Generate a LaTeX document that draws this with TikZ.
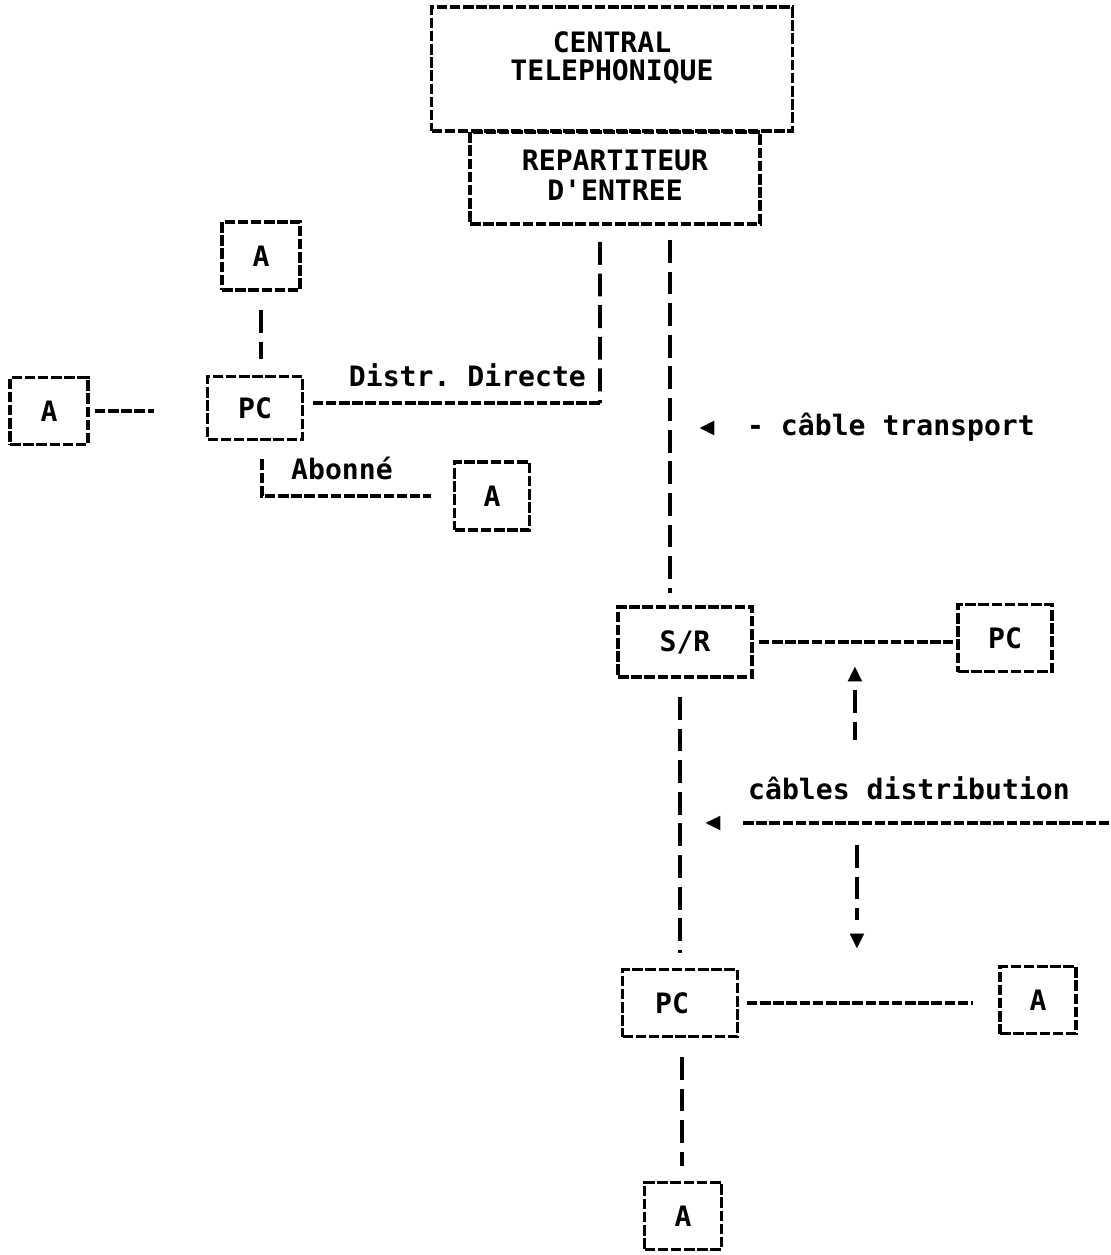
\documentclass[tikz,border=0pt]{standalone}
\usepackage{fontspec}
\setmonofont{DejaVu Sans Mono}
\newfontfamily\symfont{DejaVu Sans}
\begin{document}
\begin{tikzpicture}[x=0.02cm,y=-0.02cm,
  box/.style={draw, rectangle, inner sep=0pt, line width=2.2pt, dash pattern=on 6pt off 1.5pt},
  lbl/.style={font=\ttfamily\bfseries\fontsize{16}{18}\selectfont, inner sep=1pt},
  tip/.style={font=\symfont\fontsize{11}{11}\selectfont, inner sep=0pt},
  vline/.style={line width=2.2pt, dash pattern=on 13pt off 5pt},
  hline/.style={line width=2.2pt, dash pattern=on 6pt off 1.5pt}]
\useasboundingbox (0,0) rectangle (1110,1255);

% central and repartiteur
\node[box, minimum width=7.22cm, minimum height=2.48cm] (central) at (612,69) {};
\node[lbl] (t1) at (612,42) {CENTRAL};
\node[lbl] (t2) at (612,72) {TELEPHONIQUE};
\node[box, minimum width=5.8cm, minimum height=1.84cm] (rep) at (615,178) {};
\node[lbl] (t3) at (615,160) {REPARTITEUR};
\node[lbl] (t4) at (615,190) {D'ENTREE};

% left cluster
\node[box, minimum width=1.56cm, minimum height=1.36cm] (A1) at (261,256) {};
\node[lbl] (A1t) at (261,256) {A};
\node[box, minimum width=1.56cm, minimum height=1.34cm] (A2) at (49,411) {};
\node[lbl] (A2t) at (49,411) {A};
\node[box, minimum width=1.9cm, minimum height=1.26cm] (PC1) at (255,408) {};
\node[lbl] (PC1t) at (255,408) {PC};
\node[box, minimum width=1.5cm, minimum height=1.36cm] (A3) at (492,496) {};
\node[lbl] (A3t) at (492,496) {A};

\draw[vline, shorten <=0.36cm, shorten >=0.32cm] (A1.south) -- (A1.south |- PC1.north);
\draw[hline, shorten <=0.1cm, shorten >=1.04cm] (A2.east) -- (A2.east -| PC1.west);
\coordinate (dd) at (600,403);
\draw[vline, shorten <=0.32cm] ([xshift=-0.3cm]rep.south) -- (dd);
\draw[hline, shorten >=0.16cm] (dd) -- (dd -| PC1.east);
\node[lbl, anchor=east] (ddl) at (588,375) {Distr. Directe};
\draw[hline, shorten >=0.44cm] ([xshift=0.14cm,yshift=-0.36cm]PC1.south) |- (A3.west);
\node[lbl] (abl) at (342,468) {Abonné};

% transport
\node[box, minimum width=2.68cm, minimum height=1.4cm] (SR) at (685,642) {};
\node[lbl] (SRt) at (685,642) {S/R};
\draw[vline, shorten <=0.28cm, shorten >=0.24cm] ([xshift=1.1cm]rep.south) -- ([xshift=1.1cm]rep.south |- SR.north);
\node[tip] (arr1) at (707,428) {◀};
\node[lbl] (trl) at (891,427) {- câble transport};

% right part
\node[box, minimum width=1.88cm, minimum height=1.34cm] (PC2) at (1005,638) {};
\node[lbl] (PC2t) at (1005,638) {PC};
\draw[hline, shorten <=0.1cm, shorten >=0.06cm] (SR.east) -- (SR.east -| PC2.west);

\node[tip] (arr2) at (855,674) {▲};
\coordinate (up1) at (855,690);
\coordinate (up2) at (855,740);
\draw[vline] (up1) -- (up2);
\node[lbl] (dl) at (909,788) {câbles distribution};
\node[tip] (arr3) at (713,823) {◀};
\coordinate (h1) at (743,823);
\coordinate (h2) at (1110,823);
\draw[hline] (h1) -- (h2);
\coordinate (dn1) at (857,845);
\coordinate (dn2) at (857,920);
\draw[vline] (dn1) -- (dn2);
\node[tip] (arr4) at (857,941) {▼};

% lower part
\node[box, minimum width=2.3cm, minimum height=1.34cm] (PC3) at (680,1003) {};
\node[lbl] (PC3t) at (672,1003) {PC};
\draw[vline, shorten <=0.36cm, shorten >=0.29cm] ([xshift=-0.1cm]SR.south) -- ([xshift=-0.1cm]SR.south |- PC3.north);
\node[box, minimum width=1.52cm, minimum height=1.34cm] (A4) at (1038,1000) {};
\node[lbl] (A4t) at (1038,1000) {A};
\draw[hline, shorten <=0.15cm, shorten >=0.5cm] (PC3.east) -- (PC3.east -| A4.west);
\node[box, minimum width=1.54cm, minimum height=1.34cm] (A5) at (683,1216) {};
\node[lbl] (A5t) at (683,1216) {A};
\draw[vline, shorten <=0.37cm, shorten >=0.29cm] ([xshift=0.04cm]PC3.south) -- ([xshift=0.04cm]PC3.south |- A5.north);
\end{tikzpicture}
\end{document}
